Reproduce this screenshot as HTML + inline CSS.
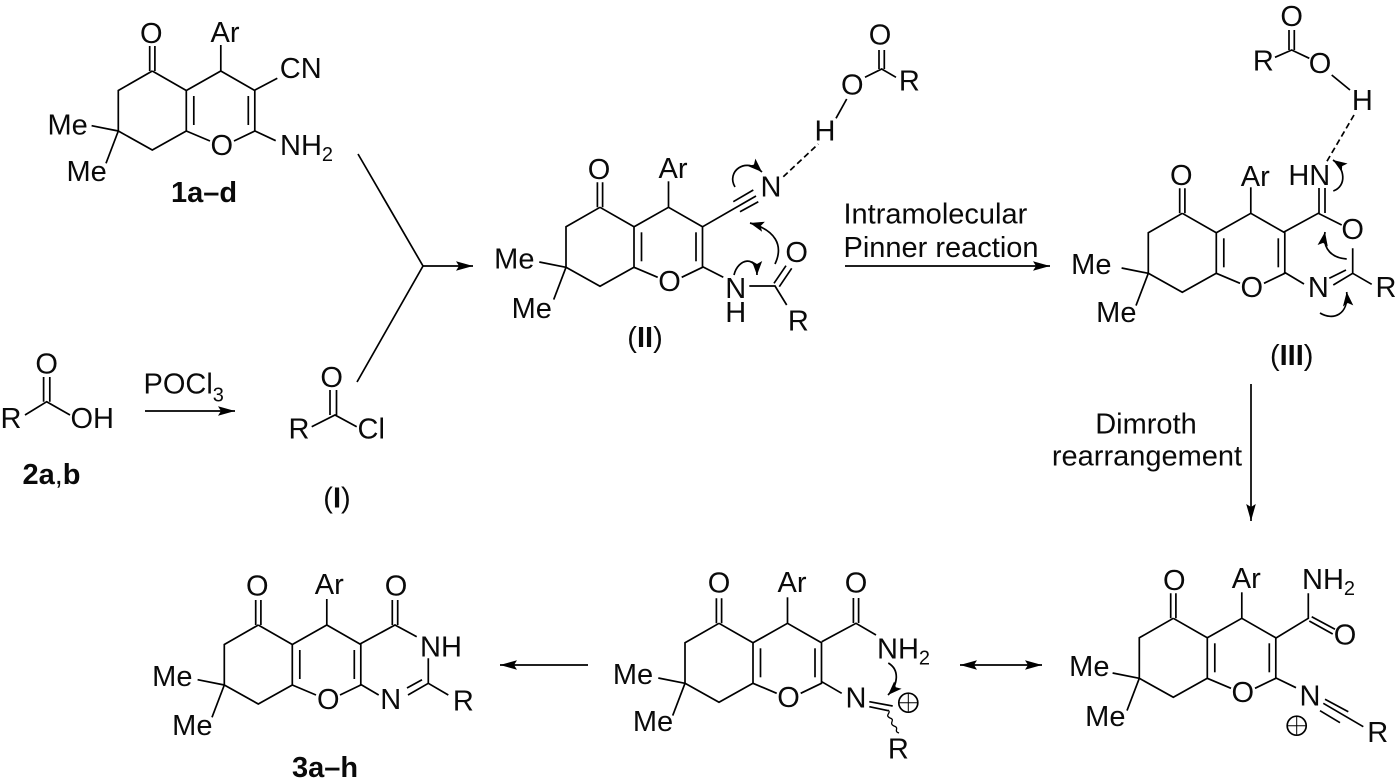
<!DOCTYPE html>
<html>
<head>
<meta charset="utf-8">
<style>
html,body{margin:0;padding:0;background:#fff;width:1397px;height:784px;overflow:hidden}
svg{display:block}
text{font-family:"Liberation Sans",Arial,sans-serif;font-size:29px;fill:#0a0a0a;text-anchor:middle;transform:translateY(.8px)}
.s{text-anchor:start}
.b{font-weight:bold}
.sub{font-size:20px}
line,path,circle{stroke:#000;stroke-width:1.7;fill:none}
</style>
</head>
<body>
<svg width="1397" height="784" viewBox="0 0 1397 784" xmlns="http://www.w3.org/2000/svg">
<defs>
<g id="core">
<path d="M-2.6,-25V0M2.6,-25V0"/>
<path d="M0,0L-34,19.5V60L0,79L34,60V19.5L0,0"/>
<path d="M34,19.5L68.5,0L102.5,19.5V60L81.7,70M34,60L57.7,70"/>
<line x1="68.5" y1="0" x2="68.5" y2="-26"/>
<line x1="41.5" y1="25" x2="41.5" y2="54"/>
<line x1="96" y1="25" x2="96" y2="54"/>
<line x1="-34" y1="60" x2="-60.7" y2="54.7"/>
<line x1="-34" y1="60" x2="-46.3" y2="92.3"/>
</g>
<marker id="h" markerUnits="userSpaceOnUse" markerWidth="20" markerHeight="14" refX="17" refY="7" orient="auto">
<path d="M0,2.2L17,7L0,11.8L3,7Z" style="fill:#000;stroke:none"/>
</marker>
<marker id="hs" markerUnits="userSpaceOnUse" markerWidth="20" markerHeight="14" refX="17" refY="7" orient="auto-start-reverse">
<path d="M0,2.2L17,7L0,11.8L3,7Z" style="fill:#000;stroke:none"/>
</marker>
<marker id="c" markerUnits="userSpaceOnUse" markerWidth="18" markerHeight="14" refX="14" refY="7" orient="auto">
<path d="M0,1.8L14,7L0,12.2L3,7Z" style="fill:#000;stroke:none"/>
</marker>
</defs>

<!-- Compound 1 -->
<g transform="translate(152.3,71)">
<use href="#core"/>
<text x="-1" y="-29">O</text><text x="72.7" y="-30">Ar</text><text x="69.5" y="83">O</text>
<text x="-84.7" y="62.5">Me</text><text x="-65.7" y="109">Me</text>
</g>
<line x1="255" y1="90" x2="277.3" y2="78.3"/>
<line x1="255" y1="131" x2="275.7" y2="140.7"/>
<text x="300.7" y="77">CN</text>
<text class="s" x="280" y="154">NH<tspan class="sub" dy="6">2</tspan></text>
<text class="b" x="204" y="201">1a–d</text>

<!-- Compound 2 + I -->
<text x="11" y="427">R</text>
<text x="46.7" y="372.5">O</text>
<path d="M43.6,377V401.7M49.8,377V401.7M25,415L46.7,401.7L70,415"/>
<text class="s" x="70.5" y="427">OH</text>
<text class="b" x="51.5" y="483">2a<tspan style="font-weight:normal">,</tspan>b</text>
<text class="s" x="143.5" y="392.5">POCl<tspan class="sub" dy="8">3</tspan></text>
<line x1="145" y1="411" x2="235" y2="411" marker-end="url(#h)"/>
<text x="299" y="437.5">R</text>
<text x="331.7" y="386">O</text>
<path d="M330,390V415M336.5,390V415M311.7,426.7L335,415L356.7,426.7"/>
<text class="s" x="357.5" y="437.5">Cl</text>
<text x="337" y="506.5">(<tspan class="b">I</tspan>)</text>

<!-- Merge arrow -->
<path d="M358,154L423,266L357,382"/>
<line x1="423" y1="266" x2="473" y2="266" marker-end="url(#h)"/>

<!-- Compound II -->
<g transform="translate(600,207.3)">
<use href="#core"/>
<text x="-1" y="-29">O</text><text x="73" y="-30">Ar</text><text x="69.5" y="83">O</text>
<text x="-85.7" y="60.5">Me</text><text x="-68.3" y="110">Me</text>
</g>
<line x1="702.7" y1="226.7" x2="756" y2="196"/>
<line x1="733.3" y1="201.7" x2="753.3" y2="190"/>
<line x1="740" y1="211.7" x2="758.3" y2="201.7"/>
<text x="771" y="195.5">N</text>
<line x1="783.3" y1="176.7" x2="818.3" y2="144" stroke-dasharray="6 3.5"/>
<text x="825" y="139.5">H</text>
<line x1="836" y1="118.3" x2="846.7" y2="99"/>
<text x="852.3" y="93.8">O</text>
<path d="M865,77.3L881.7,69L896,77.3M879,69V50M884.3,69V50"/>
<text x="880" y="43.8">O</text>
<text x="909.3" y="89.5">R</text>
<line x1="702.7" y1="266.7" x2="723.3" y2="277.3"/>
<text x="735.7" y="297">N</text>
<text x="735.7" y="321">H</text>
<path d="M749.3,286H775L786.7,305M774,283.3L786,265.7M779.3,286.7L791.7,268.3"/>
<text x="796.7" y="261">O</text>
<text x="798.3" y="329.5">R</text>
<text x="645" y="346">(<tspan class="b">II</tspan>)</text>
<path d="M735,187C726,172 745,156 762,172" marker-end="url(#c)"/>
<path d="M775,264C784,245 775,230 750,223" marker-end="url(#c)"/>
<path d="M734,275C738,258 757,255 757,275" marker-end="url(#c)"/>

<!-- Pinner arrow -->
<text class="s" x="843.5" y="222.5">Intramolecular</text>
<text class="s" x="843.5" y="256">Pinner reaction</text>
<line x1="845" y1="266" x2="1050" y2="266" marker-end="url(#h)"/>

<!-- Compound III -->
<g transform="translate(1182.3,213.3)">
<use href="#core"/>
<text x="-1" y="-29">O</text><text x="73" y="-28">Ar</text><text x="69.5" y="83">O</text>
<text x="-91" y="60">Me</text><text x="-66" y="108">Me</text>
</g>
<path d="M1284,232L1318.3,213.3L1341.7,225M1319,213V188M1325,213V188"/>
<text x="1309.3" y="184">HN</text>
<text x="1352.7" y="238">O</text>
<path d="M1352.7,248.3V273.3L1371.7,284.3M1333.3,285L1352.7,273.3M1329.3,278.3L1346,270"/>
<text x="1386" y="296">R</text>
<text x="1318.3" y="296">N</text>
<line x1="1284" y1="272" x2="1304" y2="284"/>
<text x="1362.3" y="109">H</text>
<text x="1320" y="72">O</text>
<path d="M1275,57.3L1291.7,50L1309.3,58.3M1289,50V30M1294.3,50V30M1331.7,75L1350,90"/>
<text x="1291.7" y="25">O</text>
<text x="1263.3" y="69.5">R</text>
<line x1="1354" y1="115" x2="1326.7" y2="161.7" stroke-dasharray="6 3.5"/>
<path d="M1333.3,191C1347,186 1345,168 1333,160" marker-end="url(#c)"/>
<path d="M1346.7,259C1333,258 1322,250 1325,232" marker-end="url(#c)"/>
<path d="M1320,313C1333,321 1349,315 1346.7,292" marker-end="url(#c)"/>
<text x="1291.7" y="364">(<tspan class="b">III</tspan>)</text>

<!-- Dimroth -->
<text x="1146" y="432.5">Dimroth</text>
<text x="1147" y="464.5">rearrangement</text>
<line x1="1251" y1="384" x2="1251" y2="521" marker-end="url(#h)"/>

<!-- Bottom right -->
<g transform="translate(1173.3,618.3)">
<use href="#core"/>
<text x="1" y="-29">O</text><text x="73" y="-31">Ar</text><text x="69.5" y="83">O</text>
<text x="-84" y="57">Me</text><text x="-68" y="107">Me</text>
</g>
<path d="M1276,638L1308.3,618.3V593.3M1311.7,616.7L1335,629.3M1309.3,621L1332.7,634M1276,678L1296,687.7"/>
<text class="s" x="1302" y="588">NH<tspan class="sub" dy="6">2</tspan></text>
<text x="1345" y="643.5">O</text>
<text x="1310" y="704.5">N</text>
<path d="M1323.3,703.3L1363.3,726.7M1325,699.3L1348.3,711.7M1320,710.7L1340,722.7"/>
<text x="1377.7" y="741">R</text>
<circle cx="1296.7" cy="725.7" r="9.5" stroke-width="1"/>
<path d="M1288,725.7H1305.4M1296.7,717V734.4" style="stroke-width:1"/>

<!-- Double arrow -->
<line x1="960" y1="665" x2="1042" y2="665" marker-start="url(#hs)" marker-end="url(#hs)"/>

<!-- Bottom middle -->
<g transform="translate(719,623.3)">
<use href="#core"/>
<text x="0" y="-31.5">O</text><text x="73" y="-32">Ar</text><text x="69.5" y="83">O</text>
<text x="-86" y="60">Me</text><text x="-66" y="107">Me</text>
</g>
<path d="M821.7,641.7L856,623.3L876,635M853.4,623V598M858.6,623V598M821.7,681.7L841.7,693.3"/>
<text x="856" y="591.8">O</text>
<text class="s" x="877" y="657.5">NH<tspan class="sub" dy="6">2</tspan></text>
<text x="856" y="706.8">N</text>
<path d="M869.3,701.7L892.7,706M869.3,706.7L888.3,710.7"/>
<circle cx="908.3" cy="702.7" r="9.5" stroke-width="1"/>
<path d="M899.6,702.7H917M908.3,694V711.4" style="stroke-width:1"/>
<path d="M888,710C892,713 884,715 890,718C896,720 888,723 894,726C900,728 893,731 899,733" style="stroke-width:1.3"/>
<text x="898.3" y="757.5">R</text>
<path d="M888.3,663C900,670 898,685 888,695" marker-end="url(#c)"/>

<!-- Left arrow -->
<line x1="588" y1="665" x2="500" y2="665" marker-end="url(#h)"/>

<!-- Compound 3 -->
<g transform="translate(258.3,625)">
<use href="#core"/>
<text x="-1" y="-30.5">O</text><text x="71" y="-32">Ar</text><text x="70" y="83">O</text>
<text x="-86" y="60">Me</text><text x="-66" y="109">Me</text>
</g>
<path d="M360,644L395,625L416.7,636.7M392.3,625V600M397.7,625V600"/>
<text x="396" y="594.5">O</text>
<text class="s" x="420" y="655.5">NH</text>
<path d="M428.3,658.3V683.3L448.3,695M408,695L428.3,683.3M407,688L422,679.7M360,684L378.7,695"/>
<text x="463.3" y="709.5">R</text>
<text x="390.7" y="708">N</text>
<text class="b" x="325" y="776">3a–h</text>
</svg>
</body>
</html>
